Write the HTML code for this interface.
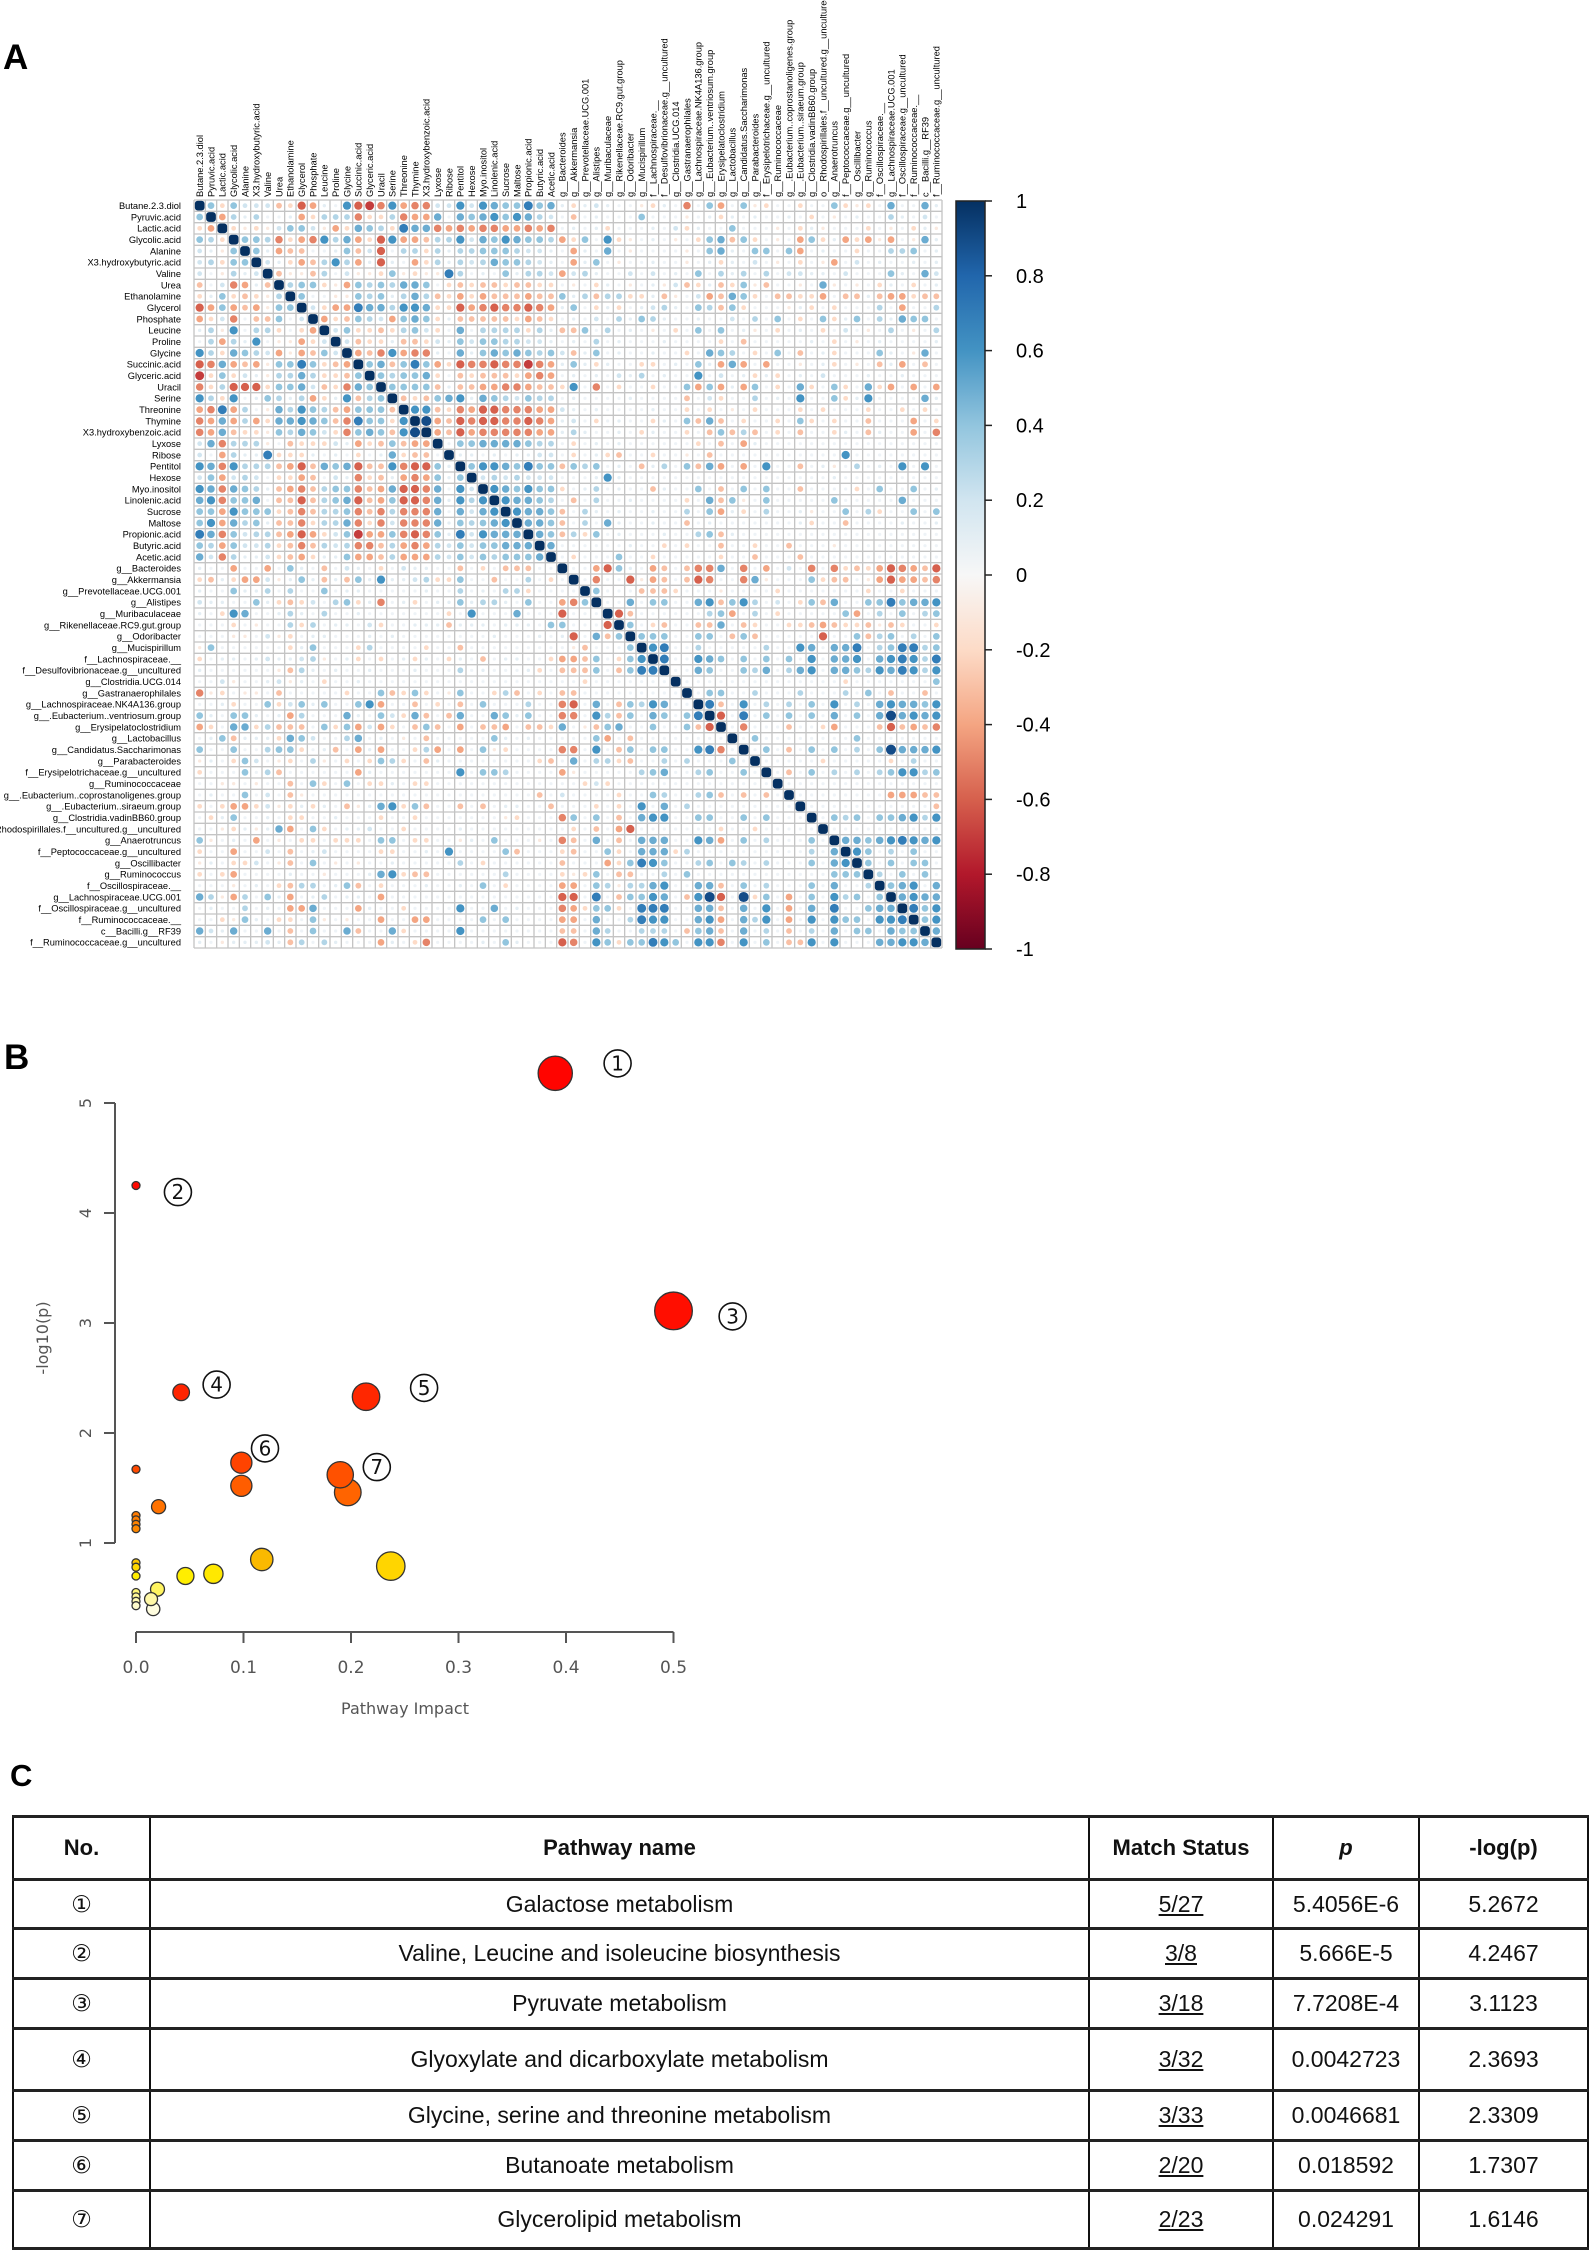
<!DOCTYPE html>
<html><head><meta charset="utf-8">
<style>
html,body{margin:0;padding:0;background:#fff;}
body{width:1594px;height:2254px;position:relative;overflow:hidden;font-family:"Liberation Sans",Arial,sans-serif;}
.plabel{position:absolute;font-weight:bold;color:#000;font-family:"Liberation Sans",sans-serif;}
#tbl{position:absolute;left:12px;top:1815px;border-collapse:collapse;table-layout:fixed;}
#tbl td{border-left:2px solid #111;border-right:2px solid #111;border-top:3px solid #222;border-bottom:3px solid #222;text-align:center;padding:0;font-size:23px;color:#111;font-family:"Liberation Sans","DejaVu Sans",sans-serif;}
#tbl tr.h td{font-weight:bold;font-size:22px;}
#tbl td.u{text-decoration:underline;}
</style></head>
<body>
<div class="plabel" style="left:3px;top:38px;font-size:35px;">A</div>
<div class="plabel" style="left:4px;top:1038px;font-size:35px;">B</div>
<div class="plabel" style="left:10px;top:1758px;font-size:31px;">C</div>

<svg id="corr" width="1594" height="1000" style="position:absolute;left:0;top:0" xmlns="http://www.w3.org/2000/svg">
<defs><linearGradient id="cbgrad" x1="0" y1="0" x2="0" y2="1">
<stop offset="0" stop-color="#053061"/><stop offset="0.1" stop-color="#2166ac"/><stop offset="0.2" stop-color="#4393c3"/><stop offset="0.3" stop-color="#92c5de"/><stop offset="0.4" stop-color="#d1e5f0"/><stop offset="0.5" stop-color="#f7f7f7"/><stop offset="0.6" stop-color="#fddbc7"/><stop offset="0.7" stop-color="#f4a582"/><stop offset="0.8" stop-color="#d6604d"/><stop offset="0.9" stop-color="#b2182b"/><stop offset="1" stop-color="#67001f"/>
</linearGradient></defs>
<g id="cells"></g><g id="rowlabs"></g><g id="collabs"></g>
<rect x="956" y="201" width="29" height="748" fill="url(#cbgrad)" stroke="#222" stroke-width="1.5"/>
<g id="cbticks"></g>
</svg>

<svg id="bubble" width="800" height="760" style="position:absolute;left:0;top:1000px" xmlns="http://www.w3.org/2000/svg">
<g id="baxes"></g><g id="bpts"></g><g id="blabs"></g>
</svg>

<table id="tbl">
<colgroup><col style="width:137px"><col style="width:939px"><col style="width:184px"><col style="width:146px"><col style="width:169px"></colgroup>
<tr class="h" style="height:63px"><td>No.</td><td>Pathway name</td><td>Match Status</td><td><i>p</i></td><td>-log(p)</td></tr>
<tr style="height:49px"><td>①</td><td>Galactose metabolism</td><td class="u">5/27</td><td>5.4056E-6</td><td>5.2672</td></tr>
<tr style="height:50px"><td>②</td><td>Valine, Leucine and isoleucine biosynthesis</td><td class="u">3/8</td><td>5.666E-5</td><td>4.2467</td></tr>
<tr style="height:50px"><td>③</td><td>Pyruvate metabolism</td><td class="u">3/18</td><td>7.7208E-4</td><td>3.1123</td></tr>
<tr style="height:62px"><td>④</td><td>Glyoxylate and dicarboxylate metabolism</td><td class="u">3/32</td><td>0.0042723</td><td>2.3693</td></tr>
<tr style="height:50px"><td>⑤</td><td>Glycine, serine and threonine metabolism</td><td class="u">3/33</td><td>0.0046681</td><td>2.3309</td></tr>
<tr style="height:50px"><td>⑥</td><td>Butanoate metabolism</td><td class="u">2/20</td><td>0.018592</td><td>1.7307</td></tr>
<tr style="height:58px"><td>⑦</td><td>Glycerolipid metabolism</td><td class="u">2/23</td><td>0.024291</td><td>1.6146</td></tr>
</table>

<script>
// ---------- Panel A data ----------
const varNames = ["Butane.2.3.diol","Pyruvic.acid","Lactic.acid","Glycolic.acid","Alanine","X3.hydroxybutyric.acid","Valine","Urea","Ethanolamine","Glycerol","Phosphate","Leucine","Proline","Glycine","Succinic.acid","Glyceric.acid","Uracil","Serine","Threonine","Thymine","X3.hydroxybenzoic.acid","Lyxose","Ribose","Pentitol","Hexose","Myo.inositol","Linolenic.acid","Sucrose","Maltose","Propionic.acid","Butyric.acid","Acetic.acid","g__Bacteroides","g__Akkermansia","g__Prevotellaceae.UCG.001","g__Alistipes","g__Muribaculaceae","g__Rikenellaceae.RC9.gut.group","g__Odoribacter","g__Mucispirillum","f__Lachnospiraceae.__","f__Desulfovibrionaceae.g__uncultured","g__Clostridia.UCG.014","g__Gastranaerophilales","g__Lachnospiraceae.NK4A136.group","g__.Eubacterium..ventriosum.group","g__Erysipelatoclostridium","g__Lactobacillus","g__Candidatus.Saccharimonas","g__Parabacteroides","f__Erysipelotrichaceae.g__uncultured","g__Ruminococcaceae","g__.Eubacterium..coprostanoligenes.group","g__.Eubacterium..siraeum.group","g__Clostridia.vadinBB60.group","o__Rhodospirillales.f__uncultured.g__uncultured","g__Anaerotruncus","f__Peptococcaceae.g__uncultured","g__Oscillibacter","g__Ruminococcus","f__Oscillospiraceae.__","g__Lachnospiraceae.UCG.001","f__Oscillospiraceae.g__uncultured","f__Ruminococcaceae.__","c__Bacilli.g__RF39","f__Ruminococcaceae.g__uncultured"];
// upper triangle rows: row i lists columns i+1..65; '1'-'9' => +0.1..+0.9, 'a'-'i' => -0.1..-0.9
const corrUpper = [
"4b4222cbfd106fge6dee22626544745"+"1b12100ab1"+"0e04d04ab0"+"0b004bab05"+"0051",
"d313001db3"+"33ebb3edd5"+"0545646532"+"0c01000400"+"0a01b10100"+"10b0a01003"+"1020",
"baba2442ad"+"b543b755ed"+"edeeddede"+"0101b00010"+"2b1004000a"+"0b1a000b0a"+"0b1a",
"443ebde635"+"dbf6ddc336"+"25465443"+"db406ba010"+"a0b45c4b0a"+"0d4b1dbdad"+"0a51",
"41dcc0014c"+"2f033b3133"+"4443221"+"0d1050a000"+"0a04510440"+"4d0100b003"+"3401",
"21bdc363d1"+"f10db31323"+"544321"+"0d140a0010"+"0a01b1020a"+"0b0ad02010"+"0101",
"caac302aab"+"4abaa73010"+"41332"+"d231002020"+"1040313030"+"2211020004"+"1052",
"344bad4343"+"5540bcbccb"+"ccbb"+"0a0b10a01a"+"2cb1cb4ac0"+"0a05a0a0b1"+"0b01",
"400aa43413"+"53cbdbdccc"+"dcc"+"413c33bb1c"+"a02dc54b0c"+"cbbd0cc1cd"+"dbcc",
"2bdd755366"+"5bbfdefeef"+"ed"+"140b1b0123"+"1043c4b000"+"a1b0b00030"+"d003",
"dbc432d454"+"b1cccccbdc"+"b"+"0102031431"+"0010020304"+"0b04b14031"+"5440",
"24bbcb342b"+"0503333b31"+"cc403010a0"+"b040401a0b"+"010b020a03"+"0a03",
"2cbb1ccb21"+"424433221"+"0103010001"+"0000b0c000"+"0010b0a010"+"0001",
"dce6dee105"+"14545434"+"2c14010010"+"0b05430b04"+"0c01b00041"+"0a50",
"45c474dbfe"+"efeeged"+"141b100bb0"+"1041d5d0d0"+"0a01b0a0c1"+"d0c0",
"43445b0cbc"+"ccbded"+"0101021301"+"0060201b1b"+"0102000100"+"1000",
"4444c1ccdd"+"eedcc"+"b60e0b00b0"+"04d4d1d40b"+"05b04b05bd"+"0d0d",
"cbc4561543"+"2433"+"0100001000"+"0c02b00301"+"06004b1600"+"0051",
"66cbedffee"+"edd"+"2101000010"+"0b0b0a0b00"+"0b0b000b00"+"b0b0",
"9dcfeffeefed"+"120b0100b1"+"04c5c0b00b"+"04b0b00c00"+"0d0b",
"dcfdeeeeedd"+"1310010b10"+"0b0c4c3c0b"+"0c00b10c10"+"0d0e",
"0445555433"+"0b01010000"+"00b0c0d100"+"0000000000"+"0000",
"110101122"+"0b01bc00b0"+"0a0c000000"+"0000060000"+"0000",
"46654744"+"c434010c13"+"04c5d0d060"+"0c01a03010"+"6060",
"2323222"+"0001610000"+"0000000000"+"0000100000"+"0000",
"654644"+"b0130100c1"+"0040c04040"+"0c0000b040"+"0401",
"65543"+"0c03001000"+"0b05c4a040"+"0000400000"+"5000",
"6554"+"c031010010"+"0304d1b030"+"01a00403b0"+"0404",
"554"+"c030510010"+"0c01000000"+"01b00c0000"+"1001",
"54"+"c3b4010001"+"0034c10000"+"0000000000"+"0000",
"5"+"000000100b"+"0b00c00b00"+"c000a00000"+"0000",
"0b000400b0"+"0000b00c00"+"0c00000000"+"0000",
"00df410dc0"+"cee50e0d02"+"0e0ebcbdfe"+"dcf",
"0e00fadc0c"+"fe00e5a000"+"4bcc0adfdd"+"ce",
"4000cccb00"+"0a0000b000"+"0000b00b00"+"0",
"0050440056"+"c463020b4c"+"5004474556",
"fc00000034"+"d030b00000"+"4d03040343",
"40bc00cc50"+"cb00bbcdcb"+"bcacb00b",
"44400440c4"+"c00000f004"+"c340304",
"6700300000"+"3006505570"+"347734",
"7006540404"+"0406055605"+"67637",
"0054004350"+"3560554365"+"7636",
"0000000000"+"0000b00000"+"004",
"0440030003"+"0003040c00"+"c0",
"7c06030304"+"0603056554"+"6",
"f070404040"+"5040595656",
"0e000c00bd"+"000cfcdce",
"0400000000"+"40000000",
"040c040403"+"0495556",
"00000b0000"+"0b0300",
"0c04030303"+"46634",
"0000000000"+"0000",
"00000000dddcc",
"00000000000c",
"04340445636",
"0000000000",
"554567656",
"64030400",
"4040440",
"304040",
"45605",
"5655",
"746",
"46",
"5"
];
const colorbarTicks = ["1","0.8","0.6","0.4","0.2","0","-0.2","-0.4","-0.6","-0.8","-1"];

// ---------- Panel B data ----------
const pathwayImpact = [0.39,0,0.5,0.042,0.214,0.098,0.19,0.197,0.098,0,0.021,0,0,0,0,0.117,0.237,0.072,0.046,0,0,0,0.02,0.014,0.016,0,0,0,0];
const negLogP = [5.27,4.25,3.11,2.37,2.33,1.73,1.62,1.46,1.52,1.67,1.33,1.25,1.21,1.17,1.13,0.85,0.79,0.72,0.70,0.82,0.78,0.70,0.58,0.49,0.40,0.55,0.51,0.47,0.43];
const labelNums = ["1","2","3","4","5","6","7"];
const labelImpact = [0.448,0.039,0.555,0.075,0.268,0.12,0.224];
const labelLogP = [5.36,4.19,3.06,2.44,2.41,1.86,1.69];
const xTicks = [0,0.1,0.2,0.3,0.4,0.5];
const xTickLabels = ["0.0","0.1","0.2","0.3","0.4","0.5"];
const yTicks = [1,2,3,4,5];

const NS="http://www.w3.org/2000/svg";
function mk(tag,attrs,parent){const e=document.createElementNS(NS,tag);for(const k in attrs)e.setAttribute(k,attrs[k]);parent.appendChild(e);return e;}

// ---------- draw matrix ----------
(function(){
const n=varNames.length, L=194, T=200, R=942, B=948;
const cw=(R-L)/n, ch=(B-T)/n;
const M=[];for(let i=0;i<n;i++){M.push(new Array(n).fill(0));M[i][i]=1;}
function dec(c){if(c>='1'&&c<='9')return (c.charCodeAt(0)-48)/10;if(c>='a'&&c<='i')return -(c.charCodeAt(0)-96)/10;return 0;}
for(let i=0;i<corrUpper.length;i++){const s=corrUpper[i];for(let k=0;k<s.length;k++){const j=i+1+k;if(j<n){M[i][j]=dec(s[k]);M[j][i]=M[i][j];}}}
const stops=[[-1,[103,0,31]],[-0.8,[178,24,43]],[-0.6,[214,96,77]],[-0.4,[244,165,130]],[-0.2,[253,219,199]],[0,[247,247,247]],[0.2,[209,229,240]],[0.4,[146,197,222]],[0.6,[67,147,195]],[0.8,[33,102,172]],[1,[5,48,97]]];
function col(v){for(let k=0;k<stops.length-1;k++){const a=stops[k],b=stops[k+1];if(v<=b[0]){const t=(v-a[0])/(b[0]-a[0]);const c=a[1].map((x,q)=>Math.round(x+(b[1][q]-x)*t));return `rgb(${c[0]},${c[1]},${c[2]})`;}}return "rgb(5,48,97)";}
const g=document.getElementById('cells');
const bg=mk('rect',{x:L,y:T,width:R-L,height:B-T,fill:'#fff'},g);


for(let i=0;i<n;i++)for(let j=0;j<n;j++){
 const v=M[i][j], x=L+j*cw, y=T+i*ch;
 if(Math.abs(v)>=0.999){
  const r=mk('rect',{x:x+0.8,y:y+0.8,width:cw-1.6,height:ch-1.6,rx:3,fill:col(v)},g);
  
  
 } else if(v!==0){
  const c=mk('circle',{cx:x+cw/2,cy:y+ch/2,r:(cw/2-0.6)*Math.sqrt(Math.abs(v))*1.05,fill:col(v)},g);
  
  
 } else {
  const c=mk('circle',{cx:x+cw/2,cy:y+ch/2,r:1.6,fill:'#eef3f7'},g);
  
  
 }
}
for(let k=0;k<=n;k++){
 const l1=mk('line',{x1:L+k*cw,y1:T,x2:L+k*cw,y2:B,stroke:'#c4c4c4','stroke-width':1.3},g);
 
 
 const l2=mk('line',{x1:L,y1:T+k*ch,x2:R,y2:T+k*ch,stroke:'#c4c4c4','stroke-width':1.3},g);
 
 
}
const rl=document.getElementById('rowlabs'), cl=document.getElementById('collabs');
for(let i=0;i<n;i++){
 const t=mk('text',{x:181,y:T+(i+0.5)*ch+3.3,'text-anchor':'end','font-size':'9.3','font-family':'Liberation Sans, sans-serif',fill:'#000'},rl);
 t.textContent=varNames[i];
 
 
 const c=mk('text',{transform:`translate(${L+(i+0.5)*cw+3.3},197) rotate(-90)`,'font-size':'9.3','font-family':'Liberation Sans, sans-serif',fill:'#000'},cl);
 c.textContent=varNames[i];
 
 
}
const cb=document.getElementById('cbticks');
for(let k=0;k<colorbarTicks.length;k++){
 const y=201+k*748/(colorbarTicks.length-1);
 const tk=mk('line',{x1:985,y1:y,x2:992,y2:y,stroke:'#222','stroke-width':1.5},cb);
 
 
 const t=mk('text',{x:1016,y:y+7,'font-size':'20','font-family':'Liberation Sans, sans-serif',fill:'#000'},cb);
 t.textContent=colorbarTicks[k];
 
 
}
})();

// ---------- draw bubble plot ----------
(function(){
const OY=1000;
const X=v=>136+v*1075;
const Y=v=>1543-(v-1)*110-OY;
const ax=document.getElementById('baxes');
const yl=mk('line',{x1:115,y1:Y(5),x2:115,y2:Y(1),stroke:'#555','stroke-width':2},ax);


yTicks.forEach(v=>{
 const l=mk('line',{x1:104,y1:Y(v),x2:115,y2:Y(v),stroke:'#555','stroke-width':2},ax);
 
 
 const t=mk('text',{transform:`translate(91,${Y(v)}) rotate(-90)`,'text-anchor':'middle','font-size':'16',fill:'#555','font-family':'DejaVu Sans, sans-serif'},ax);
 t.textContent=String(v);
 
 
});
const xl=mk('line',{x1:X(0),y1:632,x2:X(0.5),y2:632,stroke:'#555','stroke-width':2},ax);


xTicks.forEach((v,k)=>{
 const l=mk('line',{x1:X(v),y1:632,x2:X(v),y2:643,stroke:'#555','stroke-width':2},ax);
 
 
 const t=mk('text',{x:X(v),y:673,'text-anchor':'middle','font-size':'17',fill:'#555','font-family':'DejaVu Sans, sans-serif'},ax);
 t.textContent=xTickLabels[k];
 
 
});
const xt=mk('text',{x:405,y:714,'text-anchor':'middle','font-size':'16',fill:'#555','font-family':'DejaVu Sans, sans-serif'},ax);
xt.textContent='Pathway Impact';


const yt=mk('text',{transform:'translate(48,338) rotate(-90)','text-anchor':'middle','font-size':'16',fill:'#555','font-family':'DejaVu Sans, sans-serif'},ax);
yt.textContent='-log10(p)';


const cs=[[0.35,[255,255,255]],[0.5,[255,248,160]],[0.7,[255,238,0]],[0.8,[255,210,0]],[0.9,[245,160,0]],[1.2,[255,128,0]],[1.5,[255,96,0]],[1.75,[255,64,0]],[2.3,[255,40,0]],[3,[255,15,0]],[6,[255,0,0]]];
function pc(v){if(v<=cs[0][0])return 'rgb(255,255,255)';for(let k=0;k<cs.length-1;k++){const a=cs[k],b=cs[k+1];if(v<=b[0]){const t=(v-a[0])/(b[0]-a[0]);const c=a[1].map((x,q)=>Math.round(x+(b[1][q]-x)*t));return `rgb(${c[0]},${c[1]},${c[2]})`;}}return 'rgb(255,0,0)';}
const idx=pathwayImpact.map((_,i)=>i).sort((a,b)=>pathwayImpact[b]-pathwayImpact[a]);
const pg=document.getElementById('bpts');
idx.forEach(i=>{
 const r=4+Math.sqrt(pathwayImpact[i])*21;
 const c=mk('circle',{cx:X(pathwayImpact[i]),cy:Y(negLogP[i]),r:r,fill:pc(negLogP[i]),stroke:'#333','stroke-width':1.3},pg);
 
 
});
const lg=document.getElementById('blabs');
labelNums.forEach((s,k)=>{
 const cx=X(labelImpact[k]), cy=Y(labelLogP[k]);
 const c=mk('circle',{cx:cx,cy:cy,r:13.5,fill:'#fff',stroke:'#111','stroke-width':1.6},lg);
 
 
 const t=mk('text',{x:cx,y:cy+7,'text-anchor':'middle','font-size':'20',fill:'#111','font-family':'DejaVu Sans, sans-serif'},lg);
 t.textContent=s;
 
 
});
})();
</script>
</body></html>
